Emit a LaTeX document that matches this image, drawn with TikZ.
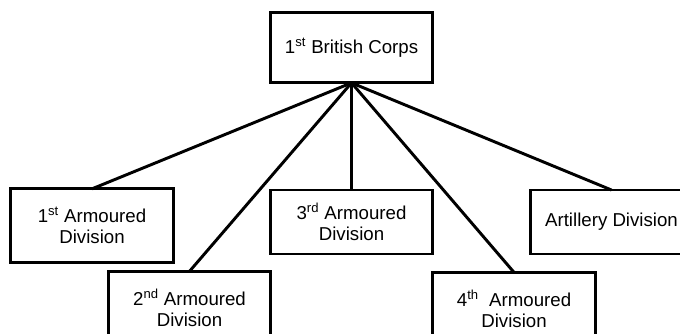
\documentclass[tikz,border=0pt]{standalone}
\usepackage{fontspec}
\setmainfont{Liberation Sans}
\begin{document}
\begin{tikzpicture}[x=0.75pt,y=-0.75pt,
  unitbox/.style={draw=black, line width=2.2pt, fill=white, align=center,
    inner sep=0pt, outer sep=0pt, minimum width=122pt,
    font=\fontsize{14}{16.2}\selectfont},
  link/.style={draw=black, line width=2.2pt}]
\useasboundingbox (0,0) rectangle (680,333);
\clip (0,0) rectangle (680,333);
\node[unitbox, minimum height=53pt] (corps) at (351.5,47.5) {1\textsuperscript{st} British Corps};
\node[unitbox, minimum height=55pt] (a1) at (92,225.5) {1\textsuperscript{st} Armoured\\Division};
\node[unitbox, minimum height=55pt] (a2) at (189.5,308) {2\textsuperscript{nd} Armoured\\Division};
\node[unitbox, minimum height=48pt] (a3) at (351.5,222) {3\textsuperscript{rd} Armoured\\Division};
\node[unitbox, minimum height=55pt] (a4) at (514,309) {4\textsuperscript{th}\ \ Armoured\\Division};
\node[unitbox, minimum height=48pt] (art) at (611.5,222) {Artillery Division};
\foreach \n in {a1,a2,a3,a4,art}
  \draw[link] (corps.south) -- (\n.north);
\end{tikzpicture}
\end{document}
